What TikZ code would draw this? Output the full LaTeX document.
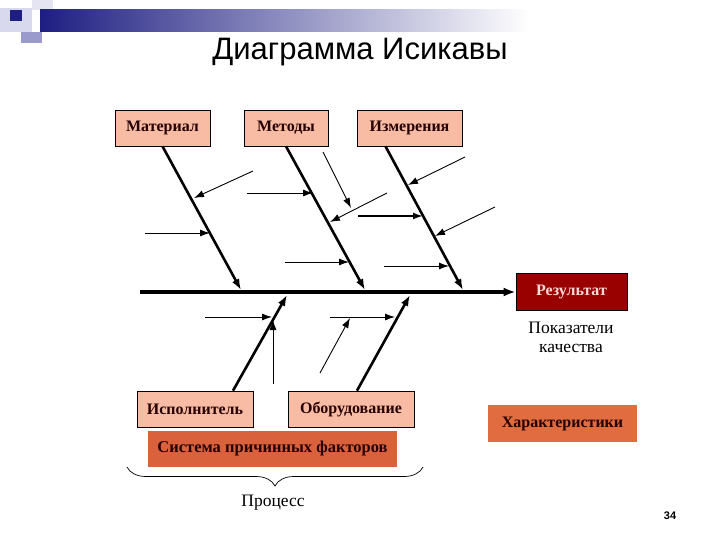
\documentclass[tikz,border=0pt]{standalone}
\usepackage{fontspec}
\setmainfont{Liberation Serif}
\newfontfamily\titlefont{Liberation Sans}
\usetikzlibrary{arrows.meta, decorations.pathreplacing, positioning}
\definecolor{causeSalmon}{HTML}{F8BCA4}
\definecolor{resultRed}{HTML}{990000}
\definecolor{resultPink}{HTML}{FFD8D8}
\definecolor{factorOrange}{HTML}{D9623C}
\definecolor{charOrange}{HTML}{E06C40}
\definecolor{barNavy}{HTML}{1E1E82}
\definecolor{midLilac}{HTML}{9A9ACC}
\definecolor{paleLilac}{HTML}{D8D8EE}

\begin{document}
\begin{tikzpicture}[x=1pt, y=-1pt,
  cause/.style={draw=black, line width=0.7pt, fill=causeSalmon, minimum height=36pt,
    inner sep=0pt, font=\fontsize{16}{18}\selectfont\bfseries, text=black!85!red},
  bone/.style={line width=2.6pt, -{Latex[length=11pt,width=8pt]}},
  twig/.style={line width=0.9pt, -{Latex[length=10pt,width=7pt]}},
  plain/.style={font=\fontsize{17.5}{19}\selectfont, align=center}]
  \useasboundingbox (0,0) rectangle (720,540);
  % Slide decoration
  \fill[paleLilac] (0,8) rectangle (32,32);
  \fill[paleLilac!70] (32,0) rectangle (53,10);
  \fill[barNavy] (10,10) rectangle (22,21);
  \fill[midLilac] (21,32) rectangle (42,43);
  \shade[left color=barNavy, right color=white] (40,10) rectangle (530,32);
  % Title
  \node (title) at (360,52) {\titlefont\fontsize{31}{34}\selectfont Диаграмма Исикавы};
  % Cause boxes
  \node[cause, minimum width=95pt] (mat) at (162.5,128) {Материал};
  \node[cause, minimum width=84pt] (meth) at (286,128) {Методы};
  \node[cause, minimum width=105pt] (meas) at (409.5,128) {Измерения};
  \node[cause, minimum width=116pt] (isp) at (195,409) {Исполнитель};
  \node[cause, minimum width=126pt] (equip) at (351,409) {Оборудование};
  % Result and other boxes
  \node[draw=black, line width=0.7pt, fill=resultRed, text=resultPink, minimum width=111pt,
        minimum height=37pt, font=\fontsize{16}{18}\selectfont\bfseries] (res) at (571.5,292) {Результат};
  \node[plain] (quality) at (571,337) {Показатели\\качества};
  \node[fill=factorOrange, minimum width=249pt, minimum height=36pt, text=black!85!red,
        font=\fontsize{16.5}{18}\selectfont\bfseries] (factors) at (272.5,449) {Система причинных факторов};
  \node[fill=charOrange, minimum width=149pt, minimum height=37pt, text=black!85!red,
        font=\fontsize{16}{18}\selectfont\bfseries] (chars) at (562.5,423.5) {Характеристики};
  % Spine
  \coordinate (tail) at (140,292);
  \draw[line width=3.4pt, -{Latex[length=12pt,width=9pt]}] (tail) -- (res.west);
  % Main bones
  \coordinate (m1) at (241,290);
  \coordinate (m2) at (365,290);
  \coordinate (m3) at (463,290);
  \coordinate (m4) at (287,295);
  \coordinate (m5) at (410,295);
  \draw[bone] (mat.south) -- (m1);
  \draw[bone] (meth.south) -- (m2);
  \draw[bone] ([xshift=-24pt]meas.south) -- (m3);
  \draw[bone] ([xshift=38pt]isp.north) -- (m4);
  \draw[bone] ([xshift=6pt]equip.north) -- (m5);
  % Twigs: material
  \coordinate (a1) at (253,171); \coordinate (a1e) at (194,198);
  \coordinate (a2) at (145,233); \coordinate (a2e) at (210,233);
  \draw[twig] (a1) -- (a1e);
  \draw[twig] (a2) -- (a2e);
  % Twigs: methods
  \coordinate (b1) at (247,193); \coordinate (b1e) at (313,193);
  \coordinate (b2) at (387,193); \coordinate (b2e) at (330,222);
  \coordinate (b3) at (323,152); \coordinate (b3e) at (351,208);
  \coordinate (b4) at (285,262); \coordinate (b4e) at (349,262);
  \draw[twig] (b1) -- (b1e);
  \draw[twig] (b2) -- (b2e);
  \draw[twig] (b3) -- (b3e);
  \draw[twig] (b4) -- (b4e);
  % Twigs: measurement
  \coordinate (c1) at (465,157); \coordinate (c1e) at (408,185);
  \coordinate (c2) at (358,216); \coordinate (c2e) at (423,216);
  \coordinate (c3) at (495,207); \coordinate (c3e) at (435,236);
  \coordinate (c4) at (384,266); \coordinate (c4e) at (449,266);
  \draw[twig] (c1) -- (c1e);
  \draw[twig, line width=1.8pt] (c2) -- (c2e);
  \draw[twig] (c3) -- (c3e);
  \draw[twig] (c4) -- (c4e);
  % Twigs: performer and equipment
  \coordinate (d1) at (205,317); \coordinate (d1e) at (272,317);
  \coordinate (d2) at (273,384); \coordinate (d2e) at (273,320);
  \coordinate (e1) at (330,317); \coordinate (e1e) at (395,317);
  \coordinate (e2) at (320,373); \coordinate (e2e) at (350,318);
  \draw[twig] (d1) -- (d1e);
  \draw[twig] (d2) -- (d2e);
  \draw[twig] (e1) -- (e1e);
  \draw[twig] (e2) -- (e2e);
  % Process brace
  \coordinate (brL) at (127,467);
  \coordinate (brR) at (423,467);
  \draw[line width=0.7pt, decorate, decoration={brace, amplitude=19pt, mirror}] (brL) -- (brR);
  \node[plain] (proc) at (273,503) {Процесс};
  % Page number
  \node[font=\titlefont\bfseries\fontsize{11}{12}\selectfont] (page) at (670,516) {34};
\end{tikzpicture}
\end{document}
